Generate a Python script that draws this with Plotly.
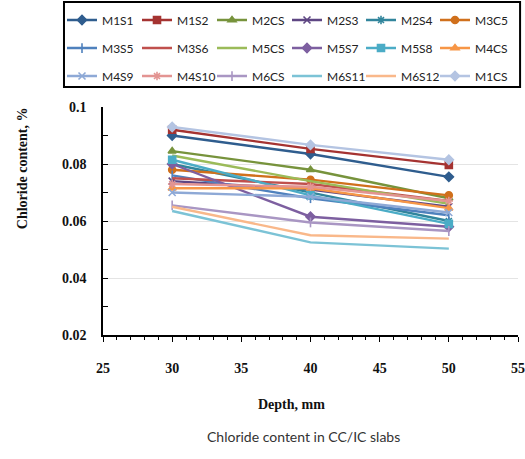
import plotly.graph_objects as go

# Depth of sampling, mm
depth = [30, 40, 50]

series_names = [
    "M1S1", "M1S2", "M2CS", "M2S3", "M2S4", "M3C5",
    "M3S5", "M3S6", "M5CS", "M5S7", "M5S8", "M4CS",
    "M4S9", "M4S10", "M6CS", "M6S11", "M6S12", "M1CS",
]

# Chloride content (%) at 30, 40, 50 mm
m1s1 = [0.0900, 0.0835, 0.0755]
m1s2 = [0.0920, 0.0853, 0.0797]
m2cs = [0.0845, 0.0780, 0.0680]
m2s3 = [0.0740, 0.0710, 0.0650]
m2s4 = [0.0800, 0.0700, 0.0600]
m3c5 = [0.0780, 0.0745, 0.0690]
m3s5 = [0.0760, 0.0680, 0.0620]
m3s6 = [0.0750, 0.0730, 0.0670]
m5cs = [0.0830, 0.0740, 0.0660]
m5s7 = [0.0800, 0.0615, 0.0580]
m5s8 = [0.0815, 0.0690, 0.0590]
m4cs = [0.0715, 0.0715, 0.0645]
m4s9 = [0.0700, 0.0685, 0.0630]
m4s10 = [0.0730, 0.0720, 0.0670]
m6cs = [0.0655, 0.0595, 0.0565]
m6s11 = [0.0635, 0.0525, 0.0503]
m6s12 = [0.0650, 0.0550, 0.0538]
m1cs = [0.0930, 0.0867, 0.0815]

values = [m1s1, m1s2, m2cs, m2s3, m2s4, m3c5,
          m3s5, m3s6, m5cs, m5s7, m5s8, m4cs,
          m4s9, m4s10, m6cs, m6s11, m6s12, m1cs]

colors = [
    "#2F5D8E", "#A53331", "#77933C", "#5E4683", "#31859C", "#D0701C",
    "#4F81BD", "#C0504D", "#9BBB59", "#7D5FA0", "#4BACC6", "#F79646",
    "#8EA9D6", "#E39492", "#A996C3", "#7CC3D6", "#F9B88A", "#B4C4E2",
]
symbols = [
    "diamond", "square", "triangle-up", "x-thin-open", "asterisk-open", "circle",
    "line-ns-open", None, None, "diamond", "square", "triangle-up",
    "x-thin-open", "asterisk-open", "line-ns-open", None, None, "diamond",
]

# one vertical legend per column of the 6 x 3 key
legend_ids = ["legend", "legend2", "legend3", "legend4", "legend5", "legend6"]
col_left_px = [62, 137, 212, 287, 361, 435]

fig = go.Figure()
for i, (name, vals) in enumerate(zip(series_names, values)):
    col = i % 6
    sym = symbols[i]
    mode = "lines+markers" if sym else "lines"
    marker = dict(symbol=sym or "circle", size=7, color=colors[i],
                  line=dict(width=1.6, color=colors[i]))
    fig.add_trace(go.Scatter(
        x=depth, y=vals, name=name, mode=mode,
        line=dict(color=colors[i], width=2.4),
        marker=marker, legend=legend_ids[col], legendgroup=name,
    ))

plot_left, plot_w = 103, 415

leg_common = dict(
    orientation="v", xanchor="left", yanchor="top", y=1.445,
    font=dict(family="Lato", size=12, color="#222"),
    bgcolor="rgba(0,0,0,0)", borderwidth=0,
    itemwidth=30, tracegroupgap=9,
)
legends = {
    lid: dict(x=(px - plot_left) / plot_w, **leg_common)
    for lid, px in zip(legend_ids, col_left_px)
}

serif_bold = dict(family="Liberation Serif", size=14, color="#111")

fig.update_layout(
    width=525, height=459,
    margin=dict(l=103, r=7, t=107, b=124, autoexpand=False),
    paper_bgcolor="white", plot_bgcolor="white",
    showlegend=True,
    **legends,
    xaxis=dict(
        range=[25, 55], dtick=5, tick0=25,
        showline=True, linecolor="black", linewidth=1.5,
        ticks="outside", ticklen=5, tickcolor="black", tickwidth=1,
        minor=dict(dtick=1, ticks="outside", ticklen=3, tickcolor="black"),
        showgrid=False, zeroline=False,
        tickfont=dict(family="Liberation Serif", size=14, color="#111", weight="bold"),
        ticklabelstandoff=14,
    ),
    yaxis=dict(
        range=[0.02, 0.1], dtick=0.02, tick0=0.02,
        showline=True, linecolor="black", linewidth=1.5,
        ticks="inside", ticklen=5, tickcolor="black", tickwidth=1,
        minor=dict(dtick=0.01, ticks="inside", ticklen=5, tickcolor="black"),
        showgrid=True, gridcolor="#E4E4E4", gridwidth=1, zeroline=False,
        tickfont=dict(family="Liberation Serif", size=14, color="#111", weight="bold"),
        ticklabelstandoff=12,
    ),
    shapes=[dict(
        type="rect", xref="paper", yref="paper",
        x0=-0.094, x1=1.005, y0=1.088, y1=1.46,
        line=dict(color="black", width=2), fillcolor="rgba(0,0,0,0)",
    )],
    annotations=[
        dict(text="<b>Depth, mm</b>", xref="paper", yref="paper",
             x=0.455, y=-0.307, showarrow=False, font=serif_bold,
             xanchor="center", yanchor="middle"),
        dict(text="<b>Chloride content, %</b>", xref="paper", yref="paper",
             x=-0.195, y=0.732, showarrow=False, font=serif_bold,
             textangle=-90, xanchor="center", yanchor="middle"),
        dict(text="Chloride content in CC/IC slabs", xref="paper", yref="paper",
             x=0.484, y=-0.443, showarrow=False,
             font=dict(family="Lato", size=14, color="#333"),
             xanchor="center", yanchor="middle"),
    ],
)

fig.write_html("out.html")
